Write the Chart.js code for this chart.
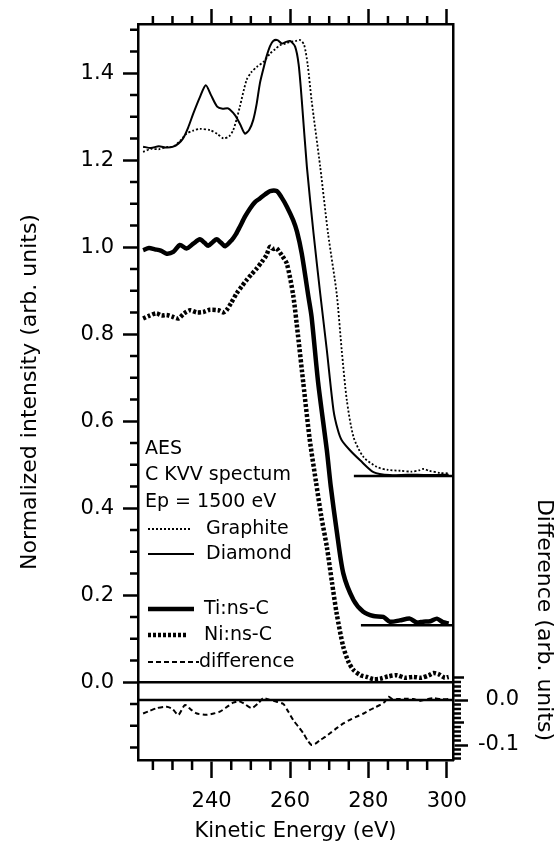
<!DOCTYPE html>
<html>
<head>
<meta charset="utf-8">
<script src="https://cdn.jsdelivr.net/npm/chart.js@4.4.1/dist/chart.umd.min.js"></script>
<style>
    html, body { margin: 0; padding: 0; background: #ffffff; }
    canvas { display: block; }
</style>
</head>
<body>
<canvas id="aesChart" width="559" height="846"></canvas>
<script>
// values: kinetic energy (eV) vs normalized intensity
const graphiteEnergy = [222.5, 224.5, 226.5, 228.5, 230.2, 232.0, 233.6, 235.3, 237.0, 239.6, 241.5, 243.0, 244.5, 245.5, 246.4, 247.2, 248.9, 250.2, 251.5, 253.2, 254.9, 256.2, 257.4, 258.8, 260.0, 261.5, 262.6, 263.6, 264.5, 265.5, 267.7, 269.7, 271.9, 273.2, 274.5, 276.2, 278.7, 282.1, 285.0, 288.1, 291.0, 293.0, 294.0, 295.5, 298.3, 300.5];
const graphiteIntensity = [1.219, 1.226, 1.225, 1.230, 1.231, 1.245, 1.261, 1.268, 1.272, 1.269, 1.260, 1.250, 1.255, 1.269, 1.295, 1.323, 1.384, 1.403, 1.414, 1.426, 1.445, 1.455, 1.464, 1.468, 1.472, 1.474, 1.476, 1.465, 1.420, 1.338, 1.185, 1.032, 0.894, 0.763, 0.648, 0.564, 0.518, 0.495, 0.488, 0.486, 0.484, 0.487, 0.490, 0.486, 0.481, 0.480];

const diamondEnergy = [222.5, 224.5, 226.5, 228.5, 230.2, 231.5, 232.7, 234.0, 235.3, 237.0, 238.5, 239.8, 241.4, 242.8, 244.2, 246.0, 247.3, 248.5, 249.6, 250.6, 251.5, 252.3, 253.2, 254.0, 254.9, 255.7, 256.8, 257.9, 259.0, 260.0, 261.3, 262.2, 263.0, 264.3, 266.0, 267.7, 269.4, 271.1, 272.2, 273.2, 275.3, 277.9, 281.3, 285.5, 290.0, 295.0, 300.5];
const diamondIntensity = [1.231, 1.228, 1.232, 1.229, 1.231, 1.238, 1.250, 1.275, 1.307, 1.345, 1.372, 1.350, 1.323, 1.318, 1.319, 1.303, 1.282, 1.261, 1.270, 1.292, 1.330, 1.376, 1.410, 1.438, 1.462, 1.474, 1.476, 1.468, 1.472, 1.474, 1.461, 1.420, 1.338, 1.185, 1.032, 0.894, 0.763, 0.625, 0.580, 0.556, 0.533, 0.510, 0.483, 0.476, 0.477, 0.476, 0.477];

const tiEnergy = [222.5, 224.0, 225.5, 227.0, 228.5, 230.2, 231.9, 233.6, 235.3, 237.0, 238.2, 239.1, 240.3, 241.3, 242.4, 243.4, 245.1, 246.2, 247.2, 248.5, 249.8, 251.0, 252.3, 253.6, 254.9, 256.6, 257.8, 259.2, 260.8, 261.8, 263.0, 264.7, 265.5, 267.2, 269.4, 270.4, 271.9, 273.6, 276.2, 278.7, 281.3, 283.8, 285.5, 288.0, 290.6, 292.3, 294.0, 295.8, 297.5, 299.0, 300.5];
const tiIntensity = [0.993, 0.998, 0.995, 0.992, 0.985, 0.989, 1.005, 0.997, 1.008, 1.018, 1.010, 1.003, 1.012, 1.018, 1.010, 1.002, 1.016, 1.030, 1.047, 1.070, 1.089, 1.103, 1.112, 1.121, 1.129, 1.129, 1.115, 1.093, 1.062, 1.035, 0.985, 0.886, 0.840, 0.687, 0.533, 0.450, 0.349, 0.250, 0.189, 0.162, 0.152, 0.150, 0.139, 0.142, 0.146, 0.137, 0.139, 0.140, 0.146, 0.138, 0.135];

const niEnergy = [222.5, 224.0, 225.9, 227.2, 228.5, 230.0, 231.5, 233.0, 234.5, 236.2, 237.9, 239.5, 241.7, 243.0, 243.8, 245.0, 246.4, 247.7, 248.9, 250.2, 251.5, 252.8, 254.0, 254.9, 255.8, 256.6, 258.0, 259.2, 260.8, 262.0, 263.4, 265.0, 266.6, 268.0, 269.4, 270.7, 271.9, 273.6, 275.0, 276.2, 278.0, 279.6, 281.3, 283.0, 285.0, 287.3, 289.3, 291.5, 293.5, 295.5, 296.6, 298.0, 299.5, 300.5];
const niIntensity = [0.836, 0.842, 0.848, 0.843, 0.844, 0.840, 0.836, 0.848, 0.855, 0.850, 0.851, 0.856, 0.855, 0.850, 0.855, 0.872, 0.894, 0.910, 0.924, 0.938, 0.951, 0.966, 0.982, 1.001, 0.996, 0.997, 0.980, 0.962, 0.890, 0.800, 0.687, 0.560, 0.462, 0.380, 0.311, 0.230, 0.158, 0.081, 0.045, 0.028, 0.016, 0.012, 0.007, 0.008, 0.013, 0.016, 0.010, 0.012, 0.010, 0.016, 0.021, 0.018, 0.010, 0.012];

// Ti:ns-C minus Ni:ns-C, plotted against the right axis
const diffEnergy = [222.5, 224.2, 226.0, 228.5, 230.0, 231.5, 233.2, 234.8, 236.2, 238.7, 240.5, 242.1, 243.8, 245.5, 247.0, 248.1, 250.2, 251.8, 253.2, 255.0, 256.6, 258.3, 259.5, 260.8, 262.2, 263.4, 264.5, 265.5, 266.5, 267.7, 269.0, 270.2, 272.0, 273.6, 275.3, 277.0, 278.8, 280.4, 281.8, 283.0, 284.2, 285.1, 286.2, 287.3, 289.5, 291.5, 293.0, 294.1, 295.5, 296.6, 298.5, 300.5];
const diffValues = [-0.030, -0.024, -0.018, -0.015, -0.020, -0.033, -0.011, -0.022, -0.030, -0.033, -0.030, -0.026, -0.016, -0.006, -0.003, -0.007, -0.018, -0.008, 0.004, 0.000, -0.004, -0.009, -0.025, -0.044, -0.060, -0.074, -0.090, -0.100, -0.097, -0.089, -0.082, -0.074, -0.062, -0.052, -0.044, -0.037, -0.030, -0.022, -0.016, -0.011, -0.004, 0.007, 0.002, 0.002, 0.003, 0.002, -0.002, 0.000, 0.003, 0.004, 0.002, 0.002];

// background reference lines
const diamondBaseEnergy = [276.3, 301.6];
const diamondBaseLevel = [0.474, 0.474];
const tiBaseEnergy = [278.1, 301.6];
const tiBaseLevel = [0.131, 0.131];
const zeroEnergy = [221.2, 301.6];
const zeroLevel = [0, 0];

// axis ranges and labelled ticks
const energyRange = [221.2, 301.6];
const intensityRange = [-0.179, 1.513];
const diffRange = [-0.1333, 1.502];
const energyTicks = [240, 260, 280, 300];
const intensityTicks = [0.0, 0.2, 0.4, 0.6, 0.8, 1.0, 1.2, 1.4];
const diffTicks = [0.0, -0.1];

const headerLines = ["AES", "C KVV spectum", "Ep = 1500 eV"];

const FONT = "DejaVu Sans";
const INK = "#000000";

const toPoints = (xs, ys) => xs.map((x, i) => ({ x: x, y: ys[i] }));

function curve(label, xs, ys, width, dash, axis) {
    return {
        label: label,
        data: toPoints(xs, ys),
        borderColor: INK,
        borderWidth: width,
        borderDash: dash,
        pointRadius: 0,
        tension: 0.25,
        fill: false,
        yAxisID: axis || "y"
    };
}

const datasets = [
    curve("Graphite", graphiteEnergy, graphiteIntensity, 1.8, [2, 2]),
    curve("Diamond", diamondEnergy, diamondIntensity, 2),
    curve("Ti:ns-C", tiEnergy, tiIntensity, 4.5),
    curve("Ni:ns-C", niEnergy, niIntensity, 4.5, [3, 2]),
    curve("difference", diffEnergy, diffValues, 2, [5, 3], "y2"),
    curve("diamond base", diamondBaseEnergy, diamondBaseLevel, 2.5),
    curve("ti base", tiBaseEnergy, tiBaseLevel, 2.5),
    curve("zero", zeroEnergy, zeroLevel, 2.5),
    curve("diff zero", zeroEnergy, zeroLevel, 2.5, [], "y2")
];

// small ticks between the labelled ones
const minorTicks = {
    id: "minorTicks",
    afterDraw(chart) {
        const ctx = chart.ctx;
        const { top, bottom, left, right } = chart.chartArea;
        const xs = chart.scales.x, ys = chart.scales.y, ds = chart.scales.y2;
        ctx.save();
        ctx.strokeStyle = INK;
        ctx.lineWidth = 2.5;
        ctx.beginPath();
        for (let e = 225; e <= 300; e += 5) {
            if (energyTicks.includes(e)) continue;
            const px = xs.getPixelForValue(e);
            ctx.moveTo(px, top); ctx.lineTo(px, top - 8);
            ctx.moveTo(px, bottom); ctx.lineTo(px, bottom + 10);
        }
        for (let k = -3; k <= 30; k++) {
            if (k % 4 === 0) continue;
            const py = ys.getPixelForValue(k * 0.05);
            ctx.moveTo(left, py); ctx.lineTo(left - 8, py);
        }
        for (let k = -13; k <= 5; k++) {
            if (k === 0 || k === -10) continue;
            const py = ds.getPixelForValue(k / 100);
            const len = k % 5 === 0 ? 11 : 8;
            ctx.moveTo(right, py); ctx.lineTo(right + len, py);
        }
        ctx.stroke();
        ctx.restore();
    }
};

// in-plot annotation block with line samples
const annotationBlock = {
    id: "annotationBlock",
    afterDraw(chart) {
        const ctx = chart.ctx;
        ctx.save();
        ctx.fillStyle = INK;
        ctx.strokeStyle = INK;
        ctx.font = "19px '" + FONT + "'";
        ctx.textBaseline = "middle";
        ctx.textAlign = "left";
        const headerY = [449, 475, 502];
        headerLines.forEach((t, i) => ctx.fillText(t, 145, headerY[i]));

        const samples = [
            { idx: 0, y: 529, x1: 192, tx: 206 },
            { idx: 1, y: 554, x1: 194, tx: 206 },
            { idx: 2, y: 609, x1: 194, tx: 204 },
            { idx: 3, y: 635, x1: 188, tx: 204 },
            { idx: 4, y: 662, x1: 199, tx: 199 }
        ];
        samples.forEach(s => {
            const ds = chart.data.datasets[s.idx];
            ctx.lineWidth = ds.borderWidth;
            ctx.setLineDash(ds.borderDash || []);
            ctx.beginPath();
            ctx.moveTo(148, s.y);
            ctx.lineTo(s.x1, s.y);
            ctx.stroke();
            ctx.setLineDash([]);
            ctx.fillText(ds.label, s.tx, s.y);
        });

        // right hand axis title sits low, next to the difference panel
        ctx.translate(544, 620);
        ctx.rotate(Math.PI / 2);
        ctx.textAlign = "center";
        ctx.font = "22px '" + FONT + "'";
        ctx.fillText("Difference (arb. units)", 0, 0);
        ctx.restore();
    }
};

const axisBorder = { display: true, color: INK, width: 2.5 };
const tickFont = { family: FONT, size: 21 };

const ctx = document.getElementById("aesChart").getContext("2d");
new Chart(ctx, {
    type: "line",
    data: { datasets: datasets },
    options: {
        responsive: false,
        animation: false,
        devicePixelRatio: 1,
        layout: { padding: { left: 0, top: 0, bottom: 0, right: 40 } },
        plugins: {
            legend: { display: false },
            tooltip: { enabled: false }
        },
        scales: {
            x: {
                type: "linear",
                position: "bottom",
                min: energyRange[0],
                max: energyRange[1],
                border: axisBorder,
                grid: { drawOnChartArea: false, tickLength: 18, tickWidth: 2.5, tickColor: INK },
                ticks: { color: INK, font: tickFont, padding: 11, maxRotation: 0, callback: v => String(v) },
                afterBuildTicks: s => { s.ticks = energyTicks.map(v => ({ value: v })); },
                afterFit: s => { s.height = 86; },
                title: { display: true, text: "Kinetic Energy (eV)", color: INK, font: { family: FONT, size: 21 }, padding: { top: 2, bottom: 2 } }
            },
            x2: {
                type: "linear",
                position: "top",
                min: energyRange[0],
                max: energyRange[1],
                border: axisBorder,
                grid: { drawOnChartArea: false, tickLength: 15, tickWidth: 2.5, tickColor: INK },
                ticks: { display: false },
                afterBuildTicks: s => { s.ticks = energyTicks.map(v => ({ value: v })); },
                afterFit: s => { s.height = 24; }
            },
            y: {
                type: "linear",
                position: "left",
                min: intensityRange[0],
                max: intensityRange[1],
                border: axisBorder,
                grid: { drawOnChartArea: false, tickLength: 15, tickWidth: 2.5, tickColor: INK },
                ticks: { color: INK, font: tickFont, padding: 9, callback: v => v.toFixed(1) },
                afterBuildTicks: s => { s.ticks = intensityTicks.map(v => ({ value: v })); },
                afterFit: s => { s.width = 138; },
                title: { display: true, text: "Normalized intensity (arb. units)", color: INK, font: { family: FONT, size: 22 }, padding: { top: 17, bottom: 0 } }
            },
            y2: {
                type: "linear",
                position: "right",
                min: diffRange[0],
                max: diffRange[1],
                border: axisBorder,
                grid: { drawOnChartArea: false, tickLength: 15, tickWidth: 2.5, tickColor: INK },
                ticks: { color: INK, font: tickFont, padding: 10, crossAlign: "far", callback: v => v.toFixed(1) },
                afterBuildTicks: s => { s.ticks = diffTicks.map(v => ({ value: v })); },
                afterFit: s => { s.width = 66; }
            }
        }
    },
    plugins: [minorTicks, annotationBlock]
});
</script>
</body>
</html>
